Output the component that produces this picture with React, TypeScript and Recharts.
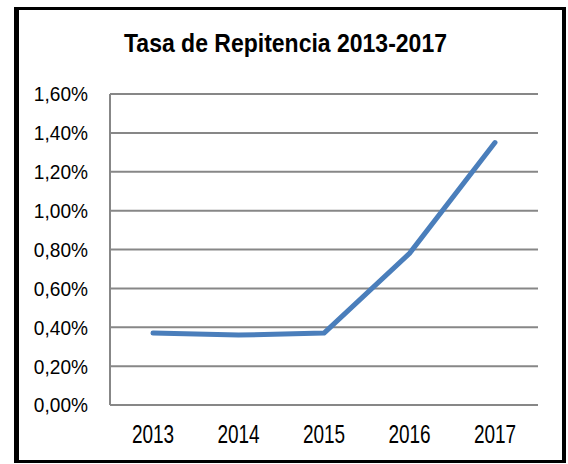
import React from 'react';
import { LineChart, Line, XAxis, YAxis, CartesianGrid } from 'recharts';

const years = ['2013', '2014', '2015', '2016', '2017'];
const repitencia = [0.37, 0.36, 0.37, 0.78, 1.35];
const yTicks = [0, 0.2, 0.4, 0.6, 0.8, 1.0, 1.2, 1.4, 1.6];

const data = years.map((year, i) => ({ year, tasa: repitencia[i] }));

const FONT = '"Liberation Sans", Arial, sans-serif';

const formatPct = (v: number) => v.toFixed(2).replace('.', ',') + '%';

// narrow-looking tick text (Arial Narrow in the original)
const YTick = ({ x, y, payload }: any) => (
    <g transform={`translate(${x},${y}) scale(0.91,1)`}>
        <text x={0} y={0} dy="0.355em" textAnchor="end" fontFamily={FONT} fontSize={21} fill="#000">
            {formatPct(payload.value)}
        </text>
    </g>
);

const XTick = ({ x, y, payload }: any) => (
    <g transform={`translate(${x},${y}) scale(0.76,1)`}>
        <text x={0} y={0} dy="0.71em" textAnchor="middle" fontFamily={FONT} fontSize={25} fill="#000">
            {payload.value}
        </text>
    </g>
);

const App: React.FC = () => {
    return (
        <div style={{ position: 'absolute', left: 0, top: 0, width: 568, height: 464, background: '#fff' }}>
            <div
                style={{
                    position: 'absolute',
                    left: 14,
                    top: 7,
                    width: 552,
                    height: 456,
                    boxSizing: 'border-box',
                    borderStyle: 'solid',
                    borderColor: '#000',
                    borderWidth: '3px 4px 3px 5px',
                }}
            />
            <svg style={{ position: 'absolute', left: 0, top: 0 }} width={568} height={70}>
                <g transform="translate(285.5,52) scale(0.92,1)">
                    <text x={0} y={0} textAnchor="middle" fontFamily={FONT} fontWeight="bold" fontSize={25} fill="#000">
                        Tasa de Repitencia 2013-2017
                    </text>
                </g>
            </svg>
            <div style={{ position: 'absolute', left: 0, top: 0 }}>
                <LineChart width={568} height={464} data={data} margin={{ top: 94, right: 30, bottom: 19, left: 10 }}>
                    <CartesianGrid vertical={false} stroke="#878787" strokeWidth={2} />
                    <XAxis
                        dataKey="year"
                        padding={{ left: 43, right: 43 }}
                        axisLine={{ stroke: '#878787', strokeWidth: 2 }}
                        tickLine={false}
                        tickSize={0}
                        tickMargin={20}
                        height={40}
                        tick={<XTick />}
                    />
                    <YAxis
                        domain={[0, 1.6]}
                        ticks={yTicks}
                        tickFormatter={formatPct}
                        width={100}
                        axisLine={{ stroke: '#878787', strokeWidth: 2 }}
                        tickLine={false}
                        tickSize={0}
                        tickMargin={22}
                        tick={<YTick />}
                    />
                    <Line
                        type="linear"
                        dataKey="tasa"
                        stroke="#4a7ebb"
                        strokeWidth={5}
                        strokeLinecap="round"
                        strokeLinejoin="round"
                        dot={false}
                        activeDot={false}
                        isAnimationActive={false}
                    />
                </LineChart>
            </div>
        </div>
    );
};

export default App;
